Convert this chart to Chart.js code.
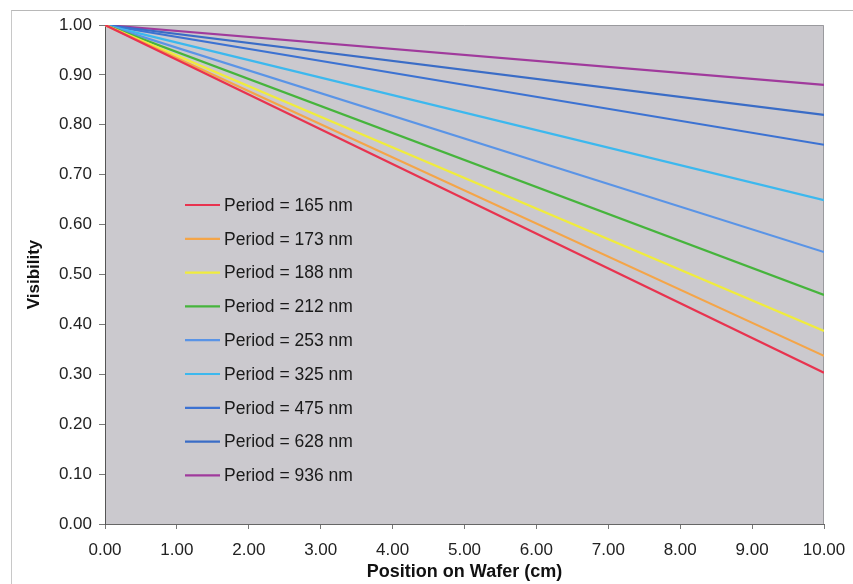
<!DOCTYPE html>
<html>
<head>
<meta charset="utf-8">
<script src="https://cdn.jsdelivr.net/npm/chart.js@4.4.0/dist/chart.umd.min.js"></script>
<style>
  html, body { margin: 0; padding: 0; background: #fff; }
  #wrap { position: relative; width: 853px; height: 584px; }
  #frame { position: absolute; left: 11px; top: 10px; width: 860px; height: 600px;
           border-left: 1px solid #c8c8c8; border-top: 1px solid #b8b8b8; }
</style>
</head>
<body>
<div id="wrap">
  <div id="frame"></div>
  <canvas id="grafico" width="853" height="584"></canvas>
</div>
<script>
// posicao no wafer (cm) e visibilidade de cada periodo
const posicoes = [0, 10];
const periodos = [165, 173, 188, 212, 253, 325, 475, 628, 936];
const vis165 = [1.00, 0.303];
const vis173 = [1.00, 0.337];
const vis188 = [1.00, 0.387];
const vis212 = [1.00, 0.459];
const vis253 = [1.00, 0.545];
const vis325 = [1.00, 0.649];
const vis475 = [1.00, 0.760];
const vis628 = [1.00, 0.820];
const vis936 = [1.00, 0.880];
const ticksX = [0, 1, 2, 3, 4, 5, 6, 7, 8, 9, 10];
const ticksY = [0, 0.1, 0.2, 0.3, 0.4, 0.5, 0.6, 0.7, 0.8, 0.9, 1.0];

const series = [vis165, vis173, vis188, vis212, vis253, vis325, vis475, vis628, vis936];
const cores = ['#e8334f', '#f4a548', '#f0ec3c', '#46b43c', '#5a94e6', '#3cb8ee', '#3c72d2', '#3a6cc6', '#a03a9c'];

const datasets = series.map((vals, i) => ({
    label: `Period = ${periodos[i]} nm`,
    data: vals.map((v, k) => ({ x: posicoes[k], y: v })),
    borderColor: cores[i],
    backgroundColor: cores[i],
    borderWidth: 2.2,
    pointRadius: 0,
    tension: 0
}));

// fundo cinza da area do grafico
const fundoPlot = {
    id: 'fundoPlot',
    beforeDraw(chart) {
        const { ctx, chartArea: a } = chart;
        ctx.save();
        ctx.fillStyle = '#cbc9ce';
        ctx.fillRect(a.left, a.top, a.right - a.left, a.bottom - a.top);
        ctx.strokeStyle = '#9a9a9e';
        ctx.lineWidth = 1;
        ctx.beginPath();
        ctx.moveTo(a.left, a.top + 0.5);
        ctx.lineTo(a.right - 0.5, a.top + 0.5);
        ctx.lineTo(a.right - 0.5, a.bottom);
        ctx.stroke();
        ctx.restore();
    }
};

// legenda desenhada dentro da area do grafico
const legendaInterna = {
    id: 'legendaInterna',
    afterDatasetsDraw(chart) {
        const ctx = chart.ctx;
        ctx.save();
        ctx.font = '17.5px "Liberation Sans", Arial, sans-serif';
        ctx.textBaseline = 'middle';
        chart.data.datasets.forEach((ds, i) => {
            const y = 205 + i * 33.8;
            ctx.strokeStyle = ds.borderColor;
            ctx.lineWidth = 2.2;
            ctx.beginPath();
            ctx.moveTo(185, y);
            ctx.lineTo(220, y);
            ctx.stroke();
            ctx.fillStyle = '#1a1a1a';
            ctx.fillText(ds.label, 224, y + 1);
        });
        ctx.restore();
    }
};

new Chart(document.getElementById('grafico'), {
    type: 'line',
    data: { datasets },
    plugins: [fundoPlot, legendaInterna],
    options: {
        responsive: false,
        animation: false,
        layout: { padding: { left: 19, top: 25, right: 29, bottom: 0 } },
        plugins: { legend: { display: false }, tooltip: { enabled: false } },
        scales: {
            x: {
                type: 'linear',
                min: 0, max: 10,
                afterBuildTicks: (s) => { s.ticks = ticksX.map(v => ({ value: v })); },
                afterFit: (s) => { s.height = 60; s.paddingRight = 0; s.paddingLeft = 0; },
                ticks: {
                    color: '#222',
                    font: { family: '"Liberation Sans", Arial', size: 17 },
                    padding: 11,
                    maxRotation: 0,
                    callback: (v) => v.toFixed(2)
                },
                grid: { drawOnChartArea: false, drawTicks: true, tickLength: 5, color: '#777' },
                border: { display: true, color: '#666' },
                title: {
                    display: true,
                    text: 'Position on Wafer (cm)',
                    color: '#111',
                    font: { family: '"Liberation Sans", Arial', size: 18, weight: 'bold' },
                    padding: { top: 0, bottom: 1 }
                }
            },
            y: {
                min: 0, max: 1,
                afterBuildTicks: (s) => { s.ticks = ticksY.map(v => ({ value: v })); },
                afterFit: (s) => { s.width = 86; },
                ticks: {
                    color: '#222',
                    font: { family: '"Liberation Sans", Arial', size: 17 },
                    padding: 7,
                    callback: (v) => v.toFixed(2)
                },
                grid: { drawOnChartArea: false, drawTicks: true, tickLength: 6, color: '#777' },
                border: { display: true, color: '#555' },
                title: {
                    display: true,
                    text: 'Visibility',
                    color: '#111',
                    font: { family: '"Liberation Sans", Arial', size: 17, weight: 'bold' },
                    padding: { top: 5, bottom: 0 }
                }
            }
        }
    }
});
</script>
</body>
</html>
